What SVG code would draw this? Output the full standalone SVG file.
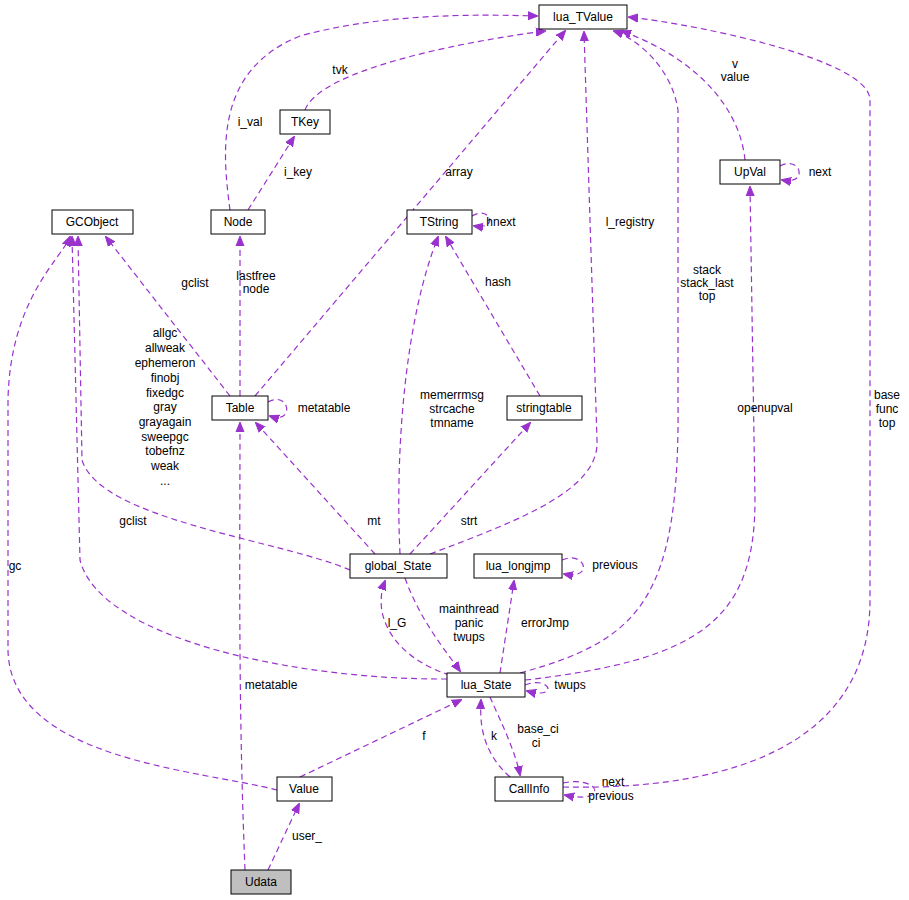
<svg xmlns="http://www.w3.org/2000/svg" width="909" height="900" viewBox="0 0 909 900">
<defs>
<style>
.n rect{fill:#fff;stroke:#000;stroke-width:1}
text{font-family:"Liberation Sans",Arial,sans-serif;font-size:12px;fill:#000}
.n text{text-anchor:middle}
.e path{fill:none;stroke:#9a32cd;stroke-width:1.2;stroke-dasharray:6,4;marker-end:url(#a)}
.l text{text-anchor:middle}
</style>
<marker id="a" viewBox="0 0 10 10" refX="9" refY="5" markerWidth="10" markerHeight="10" markerUnits="userSpaceOnUse" orient="auto"><path d="M0,1 L10,5 L0,9 Z" fill="#9a32cd" stroke="#9a32cd"/></marker>
</defs>
<rect width="909" height="900" fill="#fff"/>
<g class="e">
<path d="M230,210 C222,150 215,70 300,36 C380,14 470,14 537,16"/>
<path d="M305,110 C320,70 460,42 545,31"/>
<path d="M248,210 L294,137"/>
<path d="M255,396 L565,31"/>
<path d="M472,216 C490,205 500,230 474,226"/>
<path d="M540,396 L446,237"/>
<path d="M430,554 C520,520 600,490 597,440 L584,32"/>
<path d="M520,673 C640,640 680,600 678,400 L678,110 C672,70 640,40 614,31"/>
<path d="M745,160 C740,110 700,60 622,31"/>
<path d="M780,166 C800,155 810,185 782,180"/>
<path d="M563,787 C700,790 870,760 870,600 L870,100 C870,60 700,25 629,17"/>
<path d="M230,396 L106,237"/>
<path d="M240,396 L240,237"/>
<path d="M268,402 C290,390 295,425 270,416"/>
<path d="M350,570 C280,540 100,520 82,460 L78,237"/>
<path d="M375,554 L256,423"/>
<path d="M400,554 C395,450 405,320 438,237"/>
<path d="M410,554 L530,423"/>
<path d="M447,679 C300,680 100,640 80,560 L72,237"/>
<path d="M450,675 C400,660 370,620 385,581"/>
<path d="M405,578 C420,620 445,650 460,671"/>
<path d="M500,673 L514,581"/>
<path d="M562,560 C585,550 595,580 564,574"/>
<path d="M525,680 C700,660 755,620 755,500 L750,187"/>
<path d="M525,685 C550,675 560,700 527,691"/>
<path d="M277,790 C200,770 10,760 8,650 L8,400 C10,300 60,260 70,237"/>
<path d="M300,777 L461,700"/>
<path d="M510,777 C480,750 480,720 481,700"/>
<path d="M490,697 C500,720 515,750 520,775"/>
<path d="M563,783 C600,775 610,805 565,795"/>
<path d="M268,870 L299,804"/>
<path d="M245,870 C238,700 240,550 240,423"/>
</g>
<g class="l">
<text x="250" y="126">i_val</text>
<text x="340" y="74">tvk</text>
<text x="298" y="176">i_key</text>
<text x="459" y="176">array</text>
<text x="501" y="226">hnext</text>
<text x="498" y="286">hash</text>
<text x="630" y="226">l_registry</text>
<text x="707" y="274">stack</text>
<text x="707" y="287">stack_last</text>
<text x="707" y="300">top</text>
<text x="735" y="68">v</text>
<text x="735" y="81">value</text>
<text x="820" y="176">next</text>
<text x="887" y="399">base</text>
<text x="887" y="413">func</text>
<text x="887" y="427">top</text>
<text x="195" y="287">gclist</text>
<text x="256" y="280">lastfree</text>
<text x="256" y="293">node</text>
<text x="324" y="412">metatable</text>
<text x="165" y="337">allgc</text>
<text x="165" y="352">allweak</text>
<text x="165" y="367">ephemeron</text>
<text x="165" y="382">finobj</text>
<text x="165" y="397">fixedgc</text>
<text x="165" y="411">gray</text>
<text x="165" y="426">grayagain</text>
<text x="165" y="441">sweepgc</text>
<text x="165" y="455">tobefnz</text>
<text x="165" y="470">weak</text>
<text x="165" y="485">...</text>
<text x="374" y="525">mt</text>
<text x="452" y="399">memerrmsg</text>
<text x="452" y="413">strcache</text>
<text x="452" y="427">tmname</text>
<text x="469" y="525">strt</text>
<text x="133" y="525">gclist</text>
<text x="397" y="627">l_G</text>
<text x="469" y="613">mainthread</text>
<text x="469" y="627">panic</text>
<text x="469" y="641">twups</text>
<text x="545" y="627">errorJmp</text>
<text x="615" y="569">previous</text>
<text x="765" y="412">openupval</text>
<text x="570" y="689">twups</text>
<text x="15" y="570">gc</text>
<text x="424" y="740">f</text>
<text x="494" y="740">k</text>
<text x="538" y="733">base_ci</text>
<text x="536" y="747">ci</text>
<text x="613" y="786">next</text>
<text x="611" y="800">previous</text>
<text x="307" y="840">user_</text>
<text x="271" y="689">metatable</text>
</g>
<g class="n" id="lua_TValue"><rect x="539" y="5" width="88" height="24"/><text x="583" y="21">lua_TValue</text></g>
<g class="n" id="TKey"><rect x="280" y="110" width="50" height="24"/><text x="305" y="126">TKey</text></g>
<g class="n" id="UpVal"><rect x="720" y="160" width="60" height="24"/><text x="750" y="176">UpVal</text></g>
<g class="n" id="GCObject"><rect x="52" y="210" width="81" height="24"/><text x="92" y="226">GCObject</text></g>
<g class="n" id="Node"><rect x="211" y="210" width="54" height="24"/><text x="238" y="226">Node</text></g>
<g class="n" id="TString"><rect x="407" y="210" width="65" height="24"/><text x="439" y="226">TString</text></g>
<g class="n" id="Table"><rect x="212" y="396" width="56" height="24"/><text x="240" y="412">Table</text></g>
<g class="n" id="stringtable"><rect x="507" y="396" width="75" height="24"/><text x="544" y="412">stringtable</text></g>
<g class="n" id="global_State"><rect x="350" y="554" width="97" height="24"/><text x="398" y="570">global_State</text></g>
<g class="n" id="lua_longjmp"><rect x="474" y="554" width="88" height="24"/><text x="518" y="570">lua_longjmp</text></g>
<g class="n" id="lua_State"><rect x="447" y="673" width="78" height="24"/><text x="486" y="689">lua_State</text></g>
<g class="n" id="Value"><rect x="277" y="777" width="55" height="24"/><text x="304" y="793">Value</text></g>
<g class="n" id="CallInfo"><rect x="495" y="777" width="68" height="24"/><text x="529" y="793">CallInfo</text></g>
<g class="n" id="Udata"><rect x="231" y="870" width="60" height="24" style="fill:#bfbfbf"/><text x="261" y="886">Udata</text></g>
</svg>
